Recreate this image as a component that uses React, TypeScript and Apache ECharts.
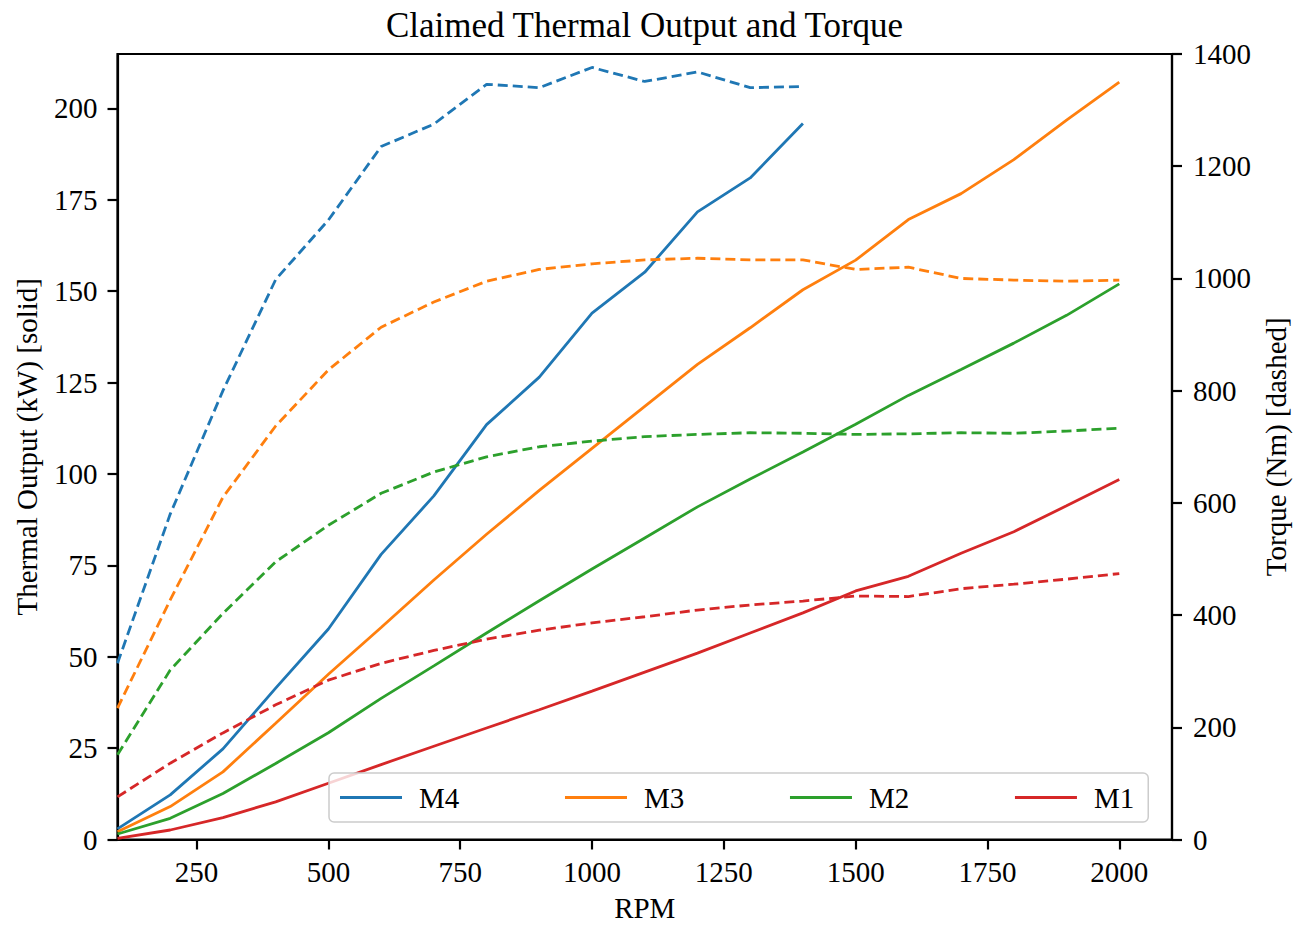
import React, { useEffect, useRef } from "react";
import * as echarts from "echarts";

const FONT = "'Liberation Serif', 'Times New Roman', Times, serif";

const TITLE = "Claimed Thermal Output and Torque";
const X_NAME = "RPM";
const Y_LEFT_NAME = "Thermal Output (kW) [solid]";
const Y_RIGHT_NAME = "Torque (Nm) [dashed]";

const rpmAll = [100, 200, 300, 400, 500, 600, 700, 800, 900, 1000, 1100, 1200, 1300, 1400, 1500, 1600, 1700, 1800, 1900, 2000];
const rpmM4 = [100, 200, 300, 400, 500, 600, 700, 800, 900, 1000, 1100, 1200, 1300, 1400];

const m4Power = [2.9, 12.2, 24.8, 41.4, 57.6, 78, 94, 113.5, 126.5, 144, 155.2, 171.7, 181, 195.9];
const m4Torque = [314, 580, 800, 998, 1104, 1235, 1275, 1346, 1340, 1376, 1351, 1368, 1340, 1342];

const m3Power = [2.1, 9.0, 18.5, 31.8, 45.2, 58, 71, 83.5, 95.5, 107, 118.5, 130, 140, 150.4, 158.5, 169.6, 176.7, 186, 196.8, 207.2];
const m3Torque = [234, 427, 610, 737, 837, 913, 958, 995, 1016, 1026, 1033, 1036, 1033, 1033, 1016, 1020, 1000, 997, 995, 997];

const m2Power = [1.5, 5.8, 12.6, 20.8, 29.2, 38.6, 47.5, 56.5, 65.3, 74, 82.5, 91, 98.6, 106, 113.6, 121.5, 128.6, 135.8, 143.4, 152];
const m2Torque = [151, 302, 403, 495, 560, 617, 655, 682, 700, 710, 718, 722, 725, 724, 722, 723, 725, 724, 728, 733];

const m1Power = [0.3, 2.6, 6.0, 10.3, 15.4, 20.5, 25.5, 30.5, 35.5, 40.6, 45.8, 51, 56.5, 62, 68, 72, 78.3, 84.2, 91.3, 98.5];
const m1Torque = [76, 136, 190, 240, 284, 314, 337, 357, 373, 386, 397, 409, 418, 425, 434, 433, 447, 455, 464, 474];

const xTicks = [250, 500, 750, 1000, 1250, 1500, 1750, 2000];
const yLeftTicks = [0, 25, 50, 75, 100, 125, 150, 175, 200];
const yRightTicks = [0, 200, 400, 600, 800, 1000, 1200, 1400];

const models = [
  { name: "M4", color: "#1f77b4", rpm: rpmM4, power: m4Power, torque: m4Torque },
  { name: "M3", color: "#ff7f0e", rpm: rpmAll, power: m3Power, torque: m3Torque },
  { name: "M2", color: "#2ca02c", rpm: rpmAll, power: m2Power, torque: m2Torque },
  { name: "M1", color: "#d62728", rpm: rpmAll, power: m1Power, torque: m1Torque },
];

const pair = (xs: number[], ys: number[]) => ys.map((y, i) => [xs[i], y]);

const LW = 2.8;
const AXW = 2.2;

export default function App() {
  const ref = useRef<HTMLDivElement>(null);

  useEffect(() => {
    document.body.style.margin = "0";
    document.body.style.overflow = "hidden";
    const chart = echarts.init(ref.current!, null, { renderer: "svg" });

    const series: any[] = [];
    models.forEach((m) => {
      series.push({
        name: m.name,
        type: "line",
        xAxisIndex: 0,
        yAxisIndex: 0,
        data: pair(m.rpm, m.power),
        showSymbol: false,
        symbol: "none",
        lineStyle: { color: m.color, width: LW, type: "solid" },
        itemStyle: { color: m.color },
        z: 3,
      });
      series.push({
        name: m.name + " torque",
        type: "line",
        xAxisIndex: 0,
        yAxisIndex: 1,
        data: pair(m.rpm, m.torque),
        showSymbol: false,
        symbol: "none",
        lineStyle: { color: m.color, width: LW, type: [10, 5] },
        itemStyle: { color: m.color },
        z: 3,
      });
    });

    const labelStyle = { fontFamily: FONT, fontSize: 29, color: "#000" };
    const plain = (v: number) => String(v);
    const tick = (vals: number[]) => ({
      show: true,
      inside: false,
      length: 10,
      lineStyle: { color: "#000", width: AXW },
      customValues: vals,
    });
    const axisLine = { show: true, onZero: false, lineStyle: { color: "#000", width: AXW } };

    const option: any = {
      animation: false,
      backgroundColor: "#ffffff",
      title: {
        text: TITLE,
        left: 644.5,
        top: 8,
        textAlign: "center",
        padding: 0,
        textStyle: { fontFamily: FONT, fontSize: 35, fontWeight: "normal", color: "#000" },
      },
      grid: {
        left: 117.5,
        right: 134,
        top: 54,
        bottom: 85.5,
        show: true,
        borderColor: "#000",
        borderWidth: AXW,
        backgroundColor: "transparent",
        containLabel: false,
        outerBoundsMode: "none",
      },
      legend: {
        data: models.map((m) => m.name),
        left: 329,
        top: 773,
        orient: "horizontal",
        icon: "rect",
        itemWidth: 62,
        itemHeight: 3,
        itemGap: 105.7,
        padding: [10, 14, 10, 11],
        backgroundColor: "rgba(255,255,255,0.8)",
        borderColor: "#cccccc",
        borderWidth: 1.5,
        borderRadius: 5,
        selectedMode: false,
        textStyle: { fontFamily: FONT, fontSize: 29, color: "#000", padding: [0, 0, 0, 12] },
        z: 10,
      },
      xAxis: {
        type: "value",
        min: 100,
        max: 2100,
        name: X_NAME,
        nameLocation: "middle",
        nameGap: 54,
        nameTextStyle: { ...labelStyle, lineHeight: 29 },
        axisLine,
        axisTick: tick(xTicks),
        axisLabel: { ...labelStyle, margin: 18, customValues: xTicks, formatter: plain },
        splitLine: { show: false },
      },
      yAxis: [
        {
          type: "value",
          position: "left",
          min: 0,
          max: 214.9,
          name: Y_LEFT_NAME,
          nameLocation: "middle",
          nameRotate: 90,
          nameGap: 76,
          nameTextStyle: labelStyle,
          axisLine,
          axisTick: tick(yLeftTicks),
          axisLabel: { ...labelStyle, margin: 20, customValues: yLeftTicks, formatter: plain },
          splitLine: { show: false },
        },
        {
          type: "value",
          position: "right",
          min: 0,
          max: 1400,
          interval: 200,
          name: Y_RIGHT_NAME,
          nameLocation: "middle",
          nameRotate: 90,
          nameGap: 88,
          nameTextStyle: labelStyle,
          axisLine,
          axisTick: tick(yRightTicks),
          axisLabel: { ...labelStyle, margin: 21, customValues: yRightTicks, formatter: plain },
          splitLine: { show: false },
        },
      ],
      series,
    };

    chart.setOption(option);
    return () => chart.dispose();
  }, []);

  return <div ref={ref} style={{ width: 1306, height: 925 }} />;
}
